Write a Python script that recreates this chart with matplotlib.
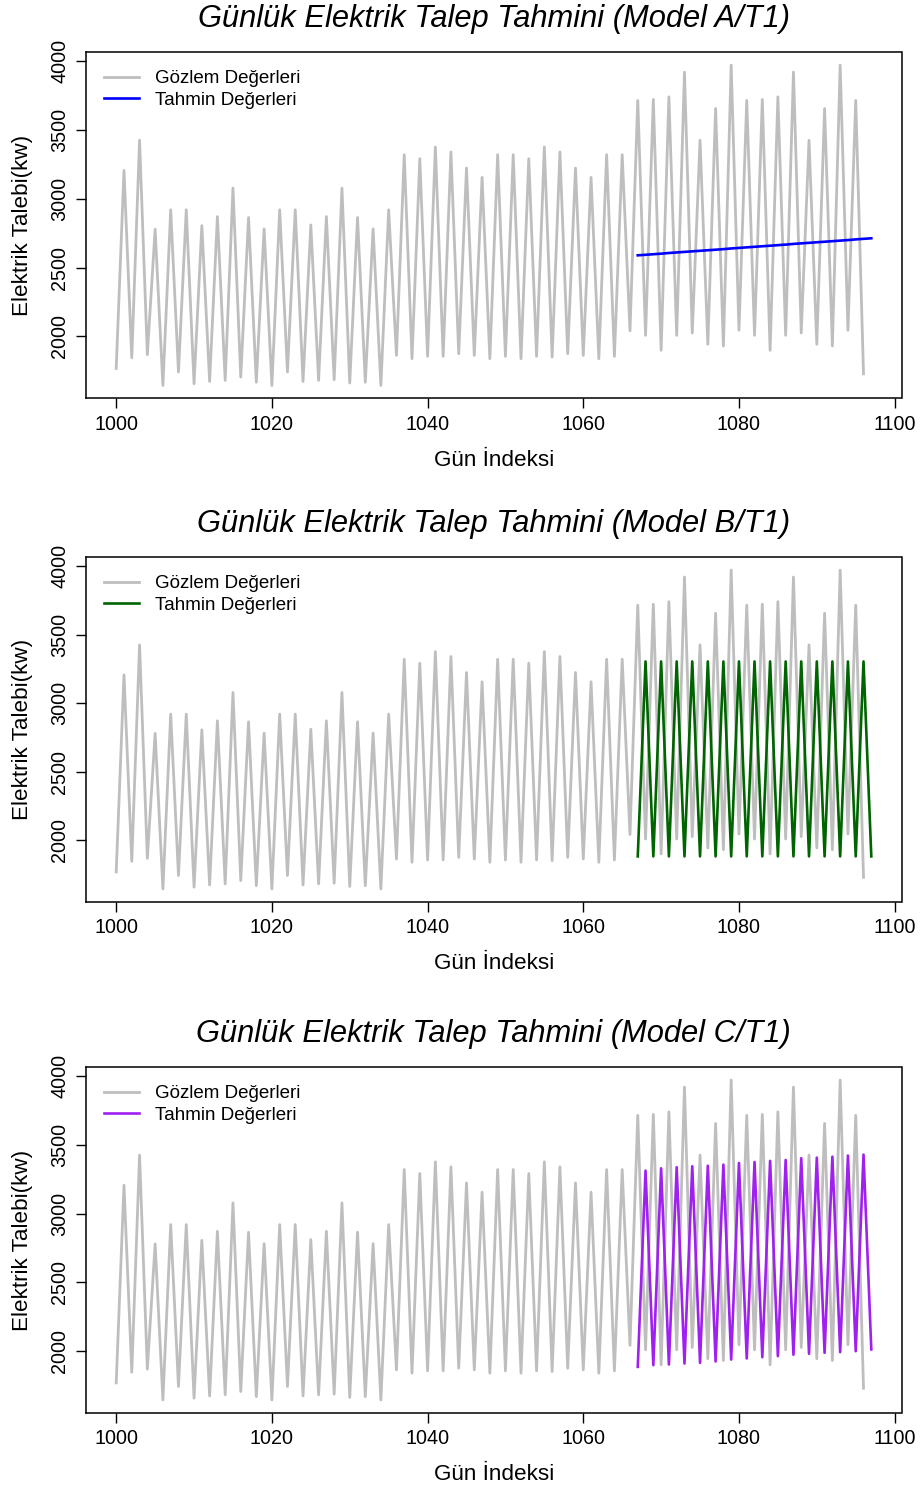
import numpy as np
import matplotlib.pyplot as plt

plt.rcParams['font.family'] = ['Liberation Sans', 'DejaVu Sans']

# Gözlem verisi (gün 1000..1096)
gun = np.arange(1000, 1097)
gozlem = [1766, 3207, 1844, 3426, 1866, 2779, 1642, 2920, 1740, 2920,
          1655, 2805, 1671, 2871, 1679, 3078, 1703, 2864, 1666, 2781,
          1642, 2920, 1740, 2920, 1671, 2810, 1679, 2871, 1684, 3078,
          1660, 2864, 1666, 2781, 1642, 2920, 1861, 3321, 1837, 3292,
          1854, 3377, 1854, 3341, 1873, 3224, 1861, 3156, 1837, 3321,
          1854, 3321, 1837, 3292, 1854, 3377, 1849, 3341, 1873, 3224,
          1861, 3156, 1837, 3321, 1854, 3321, 2040, 3716, 2007, 3723,
          1898, 3742, 2007, 3922, 2024, 3426, 1942, 3657, 1929, 3973,
          2044, 3716, 2007, 3723, 1898, 3742, 2007, 3922, 2024, 3426,
          1942, 3657, 1929, 3973, 2044, 3716, 1727]

# Tahminler (gün 1067..1097)
tahmin_gun = np.arange(1067, 1098)
tahmin_a = [2589, 2593, 2597, 2601, 2606, 2610, 2614, 2618, 2622, 2626,
            2630, 2634, 2639, 2643, 2647, 2651, 2655, 2659, 2663, 2667,
            2672, 2676, 2680, 2684, 2688, 2692, 2696, 2700, 2705, 2709, 2713]
tahmin_b = [1880, 3305, 1880, 3305, 1880, 3305, 1880, 3305, 1880, 3305,
            1880, 3305, 1880, 3305, 1880, 3305, 1880, 3305, 1880, 3305,
            1880, 3305, 1880, 3305, 1880, 3305, 1880, 3305, 1880, 3305, 1880]
tahmin_c = [1883, 3313, 1895, 3330, 1900, 3338, 1907, 3345, 1912, 3349,
            1922, 3357, 1936, 3369, 1944, 3376, 1953, 3384, 1961, 3391,
            1971, 3404, 1978, 3408, 1985, 3415, 1990, 3423, 1997, 3430, 2010]

modeller = ['A', 'B', 'C']
tahminler = [tahmin_a, tahmin_b, tahmin_c]
renkler = ['#0000FF', '#006400', '#A020F0']

W, H = 923, 1490
fig = plt.figure(figsize=(W / 100, H / 100), dpi=100)

# kutu konumlari (piksel, ust kenar / alt kenar)
kutular = [(52.3, 398.3), (557.3, 901.7), (1067.3, 1412.7)]
sol, sag = 86, 901.5

allx = np.concatenate([gun, tahmin_gun])
xr = allx.max() - allx.min()
xlim = (allx.min() - 0.04 * xr, allx.max() + 0.04 * xr)

for i, (m, th, renk) in enumerate(zip(modeller, tahminler, renkler)):
    ust, alt = kutular[i]
    ax = fig.add_axes([sol / W, 1 - alt / H, (sag - sol) / W, (alt - ust) / H])
    yv = np.concatenate([gozlem, th])
    yr = yv.max() - yv.min()
    ax.plot(gun, gozlem, color='#BEBEBE', lw=2.0, label='Gözlem Değerleri')
    ax.plot(tahmin_gun, th, color=renk, lw=1.9, label='Tahmin Değerleri')
    ax.set_xlim(*xlim)
    ax.set_ylim(yv.min() - 0.04 * yr, yv.max() + 0.04 * yr)
    ax.set_xticks(np.arange(1000, 1101, 20))
    ax.set_yticks(np.arange(2000, 4001, 500))
    ax.tick_params(length=7, width=1, labelsize=14.2, pad=5)
    ax.tick_params(axis='y', labelrotation=90)
    for lab in ax.get_yticklabels():
        lab.set_va('center')
    for s in ax.spines.values():
        s.set_linewidth(1.1)
    h = alt - ust
    ax.set_xlabel('Gün İndeksi', fontsize=16.2)
    ax.xaxis.label.set_va('center')
    ax.xaxis.set_label_coords(0.5, -62 / h)
    ax.set_ylabel('Elektrik Talebi(kw)', fontsize=16.2)
    ax.yaxis.label.set_va('center')
    ax.yaxis.set_label_coords(-63 / (sag - sol), 0.5)
    ax.text(0.5, 1 + 33 / h, 'Günlük Elektrik Talep Tahmini (Model %s/T1)' % m,
            transform=ax.transAxes, ha='center', va='center',
            fontsize=22.2, style='italic')
    ax.legend(loc='upper left', bbox_to_anchor=(0.0, 1.0), frameon=False,
              fontsize=13.5, handlelength=1.85, handletextpad=0.9,
              labelspacing=0.25, borderaxespad=0.55)

fig.savefig('out.png', dpi=100)
